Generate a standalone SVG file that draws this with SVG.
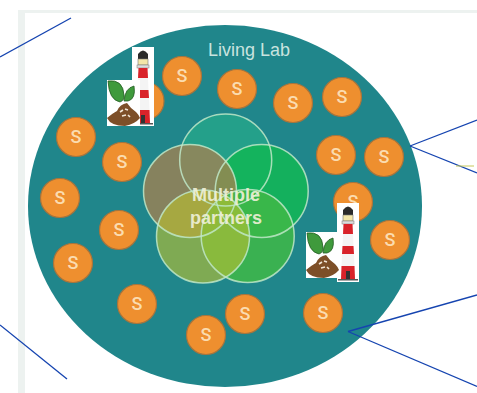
<svg xmlns="http://www.w3.org/2000/svg" width="477" height="393" viewBox="0 0 477 393">
<style>
.s circle{fill:#ee8f2f;stroke:#a8743c;stroke-width:1.2}
.s text{fill:#fbdcb0;font:500 18px "Roboto","Liberation Sans",Arial,sans-serif;text-anchor:middle}
.v{fill:none;stroke:#bfe8c8;stroke-opacity:.85;stroke-width:1.5}
.c line{stroke:#1544b0;stroke-width:1.3}
.w{fill:#fff}
.t{fill:#eef0d8;fill-opacity:.92;font:bold 18px "Liberation Sans",Arial,sans-serif;text-anchor:middle}
</style>
<defs>
<g id="lighthouse">
<rect class="w" width="22" height="79"/>
<path d="M6 12 V7 Q11 0 16 7 V12Z" fill="#2a2a2a"/>
<rect x="6" y="12" width="10" height="6" fill="#f3e6a8" stroke="#777" stroke-width=".6"/>
<rect x="5" y="18" width="12" height="3" fill="#ddd" stroke="#777" stroke-width=".5"/>
<path d="M6.500 21H15.500L16 31H6Z" fill="#d9232a"/>
<path d="M6 31H16L16.500 43H5.500Z" fill="#f4f4f4"/>
<path d="M5.500 43H16.500L17 51H5Z" fill="#d9232a"/>
<path d="M5 51H17L17.500 63H4.500Z" fill="#f4f4f4"/>
<path d="M4.500 63H17.500L18 76H4Z" fill="#d9232a"/>
<rect x="9" y="68" width="4" height="8" fill="#333"/>
<rect x="1" y="76" width="20" height="1.500" fill="#555"/>
</g>
<g id="soil">
<rect class="w" width="33" height="46"/>
<path d="M1 1 Q16 -1 17 15 Q18 20 13 22 Q2 20 1 1Z" fill="#3f9a3c" stroke="#245c25" stroke-width=".8"/>
<path d="M17 21 Q18 8 27 6 Q29 19 21 21Z" fill="#3f9a3c" stroke="#245c25" stroke-width=".8"/>
<path d="M0 38 Q6 33 10 31 Q13 24 20 23 Q24 29 29 32 Q32 35 33 38 Q28 44 18 46 Q4 46 0 38Z" fill="#7d4f28"/>
<path d="M13 32l3-2M18 29l3 1M15 36l4-1M21 35l2 2" stroke="#f2e7d8" stroke-width="1.600"/>
</g>
</defs>
<path id="frame-left" d="M21.500 393V10" fill="none" stroke="#edf2f0" stroke-width="7"/>
<path id="frame-top" d="M18 11.500H477" fill="none" stroke="#edf2f0" stroke-width="3"/>
<ellipse id="lab" cx="225" cy="206" rx="197" ry="181" fill="#20868b"/>
<text id="lab-label" x="249" y="56" fill="#c9e3df" style="font:18px 'Liberation Sans',Arial,sans-serif;text-anchor:middle">Living Lab</text>
<g id="partners">
<circle cx="225.700" cy="160" r="46" fill="#26a58a" fill-opacity=".85"/>
<circle cx="261.700" cy="191" r="46.500" fill="#13b558" fill-opacity=".9"/>
<circle cx="190" cy="191" r="46.500" fill="#a8804f" fill-opacity=".75"/>
<circle cx="247.700" cy="236" r="46.500" fill="#3fb847" fill-opacity=".85"/>
<circle cx="203" cy="236.500" r="46.500" fill="#b9c030" fill-opacity=".62"/>
<circle class="v" cx="225.700" cy="160" r="46"/>
<circle class="v" cx="261.700" cy="191" r="46.500"/>
<circle class="v" cx="190" cy="191" r="46.500"/>
<circle class="v" cx="247.700" cy="236" r="46.500"/>
<circle class="v" cx="203" cy="236.500" r="46.500"/>
<text class="t" x="226" y="201">Multiple</text>
<text class="t" x="226" y="224">partners</text>
</g>
<g id="stakeholders" class="s">
<g id="s1"><circle cx="145" cy="101" r="19"/></g>
<g id="s2"><circle cx="182" cy="76" r="19.500"/><text x="182" y="82">S</text></g>
<g id="s3"><circle cx="237" cy="89" r="19.500"/><text x="237" y="95">S</text></g>
<g id="s4"><circle cx="293" cy="103" r="19.500"/><text x="293" y="109">S</text></g>
<g id="s5"><circle cx="342" cy="97" r="19.500"/><text x="342" y="103">S</text></g>
<g id="s6"><circle cx="336" cy="155" r="19.500"/><text x="336" y="161">S</text></g>
<g id="s7"><circle cx="384" cy="157" r="19.500"/><text x="384" y="163">S</text></g>
<g id="s8"><circle cx="353" cy="202" r="19.500"/><text x="353" y="208">S</text></g>
<g id="s9"><circle cx="390" cy="240" r="19.500"/><text x="390" y="246">S</text></g>
<g id="s10"><circle cx="323" cy="313" r="19.500"/><text x="323" y="319">S</text></g>
<g id="s11"><circle cx="245" cy="314" r="19.500"/><text x="245" y="320">S</text></g>
<g id="s12"><circle cx="206" cy="335" r="19.500"/><text x="206" y="341">S</text></g>
<g id="s13"><circle cx="137" cy="304" r="19.500"/><text x="137" y="310">S</text></g>
<g id="s14"><circle cx="73" cy="263" r="19.500"/><text x="73" y="269">S</text></g>
<g id="s15"><circle cx="119" cy="230" r="19.500"/><text x="119" y="236">S</text></g>
<g id="s16"><circle cx="60" cy="198" r="19.500"/><text x="60" y="204">S</text></g>
<g id="s17"><circle cx="122" cy="162" r="19.500"/><text x="122" y="168">S</text></g>
<g id="s18"><circle cx="76" cy="137" r="19.500"/><text x="76" y="143">S</text></g>
</g>
<g id="icons-top">
<use href="#lighthouse" x="132" y="47"/>
<use href="#soil" x="107" y="80"/>
</g>
<g id="icons-bottom">
<use href="#lighthouse" x="337" y="203"/>
<use href="#soil" x="306" y="232"/>
</g>
<g id="connectors" class="c">
<line x1="0" y1="57" x2="71" y2="18"/>
<line x1="0" y1="325" x2="67" y2="379"/>
<line x1="410" y1="146" x2="477" y2="120"/>
<line x1="410" y1="146" x2="477" y2="173"/>
<line x1="348" y1="331.500" x2="477" y2="295"/>
<line x1="348" y1="331.500" x2="477" y2="386.500"/>
</g>
<path id="mark" d="M456 166H474" stroke="#c8c85a" stroke-width="1"/>
</svg>
